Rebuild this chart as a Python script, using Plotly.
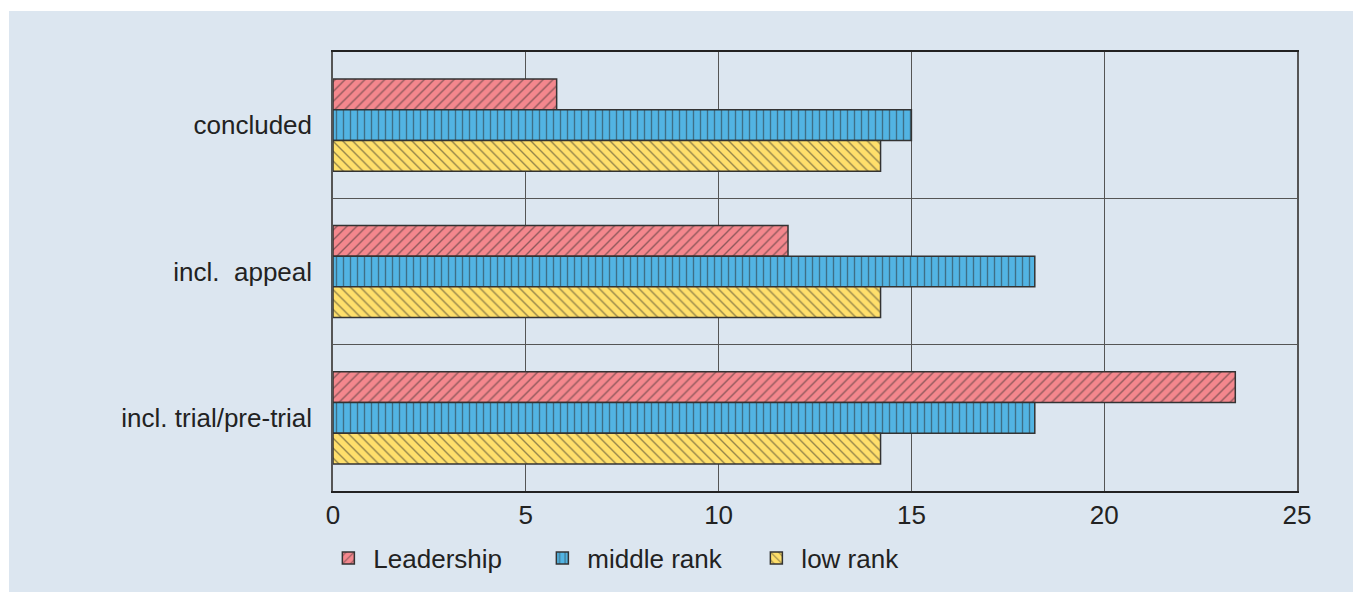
import plotly.graph_objects as go

categories = ["concluded", "incl.\u00a0\u00a0appeal", "incl. trial/pre-trial"]
leadership = [5.8, 11.8, 23.4]
middle_rank = [15.0, 18.2, 18.2]
low_rank = [14.2, 14.2, 14.2]
x_ticks = [0, 5, 10, 15, 20, 25]

series = [
    ("Leadership", leadership, "#f4878d", "/"),
    ("middle rank", middle_rank, "#52b4e3", "|"),
    ("low rank", low_rank, "#ffdf6b", "\\"),
]

fig = go.Figure()
for name, vals, color, shape in series:
    fig.add_trace(go.Bar(
        y=categories, x=vals, name=name, orientation="h",
        marker=dict(color=color, line=dict(color="#333333", width=1.5),
                    pattern=dict(shape=shape, fgcolor="#2a2a2a", bgcolor=color,
                                 size=7, solidity=0.2, fillmode="overlay")),
    ))

panel = "#dce6f0"
W, H = 1361, 592
l, r, t, b = 325, 72, 44, 109
pw, ph = W - l - r, H - t - b

fig.add_shape(type="rect", xref="paper", yref="paper", layer="below",
              x0=(1 - l) / pw, x1=(W + 20 - l) / pw,
              y0=(H - b - H - 20) / ph, y1=(H - b - 3) / ph,
              fillcolor=panel, line=dict(width=0))

fig.update_layout(
    width=W, height=H,
    margin=dict(l=l, r=r, t=t, b=b),
    paper_bgcolor="white", plot_bgcolor=panel,
    barmode="group", bargap=0.37, bargroupgap=0,
    font=dict(family="Liberation Sans, Arial, sans-serif", size=26, color="#222222"),
    showlegend=True,
    legend=dict(orientation="h", x=-0.01, xanchor="left", y=(H - b - 550) / ph, yanchor="middle",
                bgcolor="rgba(0,0,0,0)", font=dict(size=26), traceorder="normal",
                itemwidth=40, entrywidth=159, entrywidthmode="pixels"),
)
fig.update_xaxes(range=[0, 25], tickvals=x_ticks, showgrid=True, gridcolor="#555555", gridwidth=1,
                 showline=True, linecolor="#222222", linewidth=1.5, mirror=True,
                 ticks="", zeroline=False, tickfont=dict(size=26), fixedrange=True)
fig.update_yaxes(autorange="reversed", tickson="boundaries", showgrid=True, gridcolor="#555555",
                 gridwidth=1, showline=True, linecolor="#555555", linewidth=1.5, mirror=True,
                 ticks="", ticklabelstandoff=14, tickfont=dict(size=26))

fig.write_html("out.html")
